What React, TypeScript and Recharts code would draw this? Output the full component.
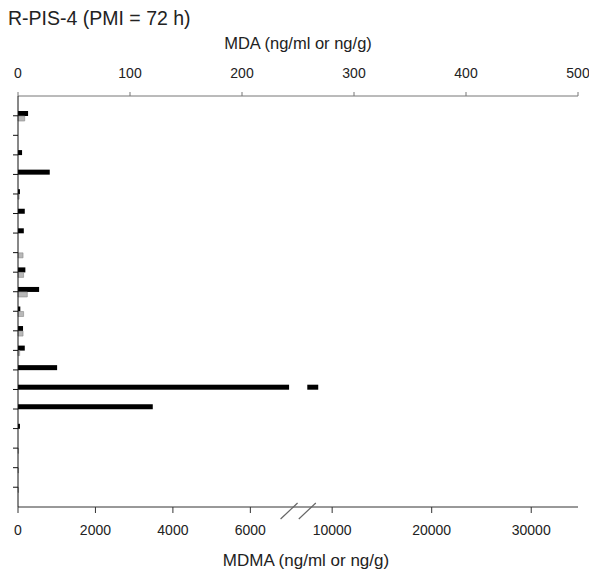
import React from 'react';
import { BarChart, Bar, XAxis, YAxis, Label } from 'recharts';

// Broken-axis chart: MDMA (bottom axis, with a break) and MDA (top axis) per sample row
const ROWS = ['1', '2', '3', '4', '5', '6', '7', '8', '9', '10', '11', '12', '13', '14', '15', '16', '17', '18', '19', '20'];
const MDMA = [260, 0, 105, 820, 50, 175, 150, 0, 190, 545, 60, 130, 175, 1010, 8600, 3480, 50, 0, 0, 0];
const MDA = [6, 0, 0, 0, 1, 0, 0, 4.5, 5, 8.3, 5, 4.5, 1.5, 0, 0, 0, 0, 0.5, 0.5, 0.5];

const MDA_TICKS = [0, 100, 200, 300, 400, 500];
const MDMA_TICKS = [0, 2000, 4000, 6000, 10000, 20000, 30000];
const MDMA_MAX = 34700;

// axis break: 7000 .. 7500 squeezed, upper part compressed
const BREAK_LOW = 7000;
const BREAK_HIGH = 7500;
const BREAK_GAP = 470;
const UPPER_RATIO = 0.257;

const toDisplay = (v: number) => {
  if (v <= BREAK_LOW) return v;
  if (v >= BREAK_HIGH) return BREAK_LOW + BREAK_GAP + (v - BREAK_HIGH) * UPPER_RATIO;
  return BREAK_LOW + ((v - BREAK_LOW) / (BREAK_HIGH - BREAK_LOW)) * BREAK_GAP;
};

const data = ROWS.map((row, i) => ({
  row,
  mdma: toDisplay(MDMA[i]),
  mda: MDA[i],
}));

const tickLabels = new Map<number, string>();
MDMA_TICKS.forEach((t) => tickLabels.set(toDisplay(t), String(t)));
const breakTicks = [toDisplay(BREAK_LOW), toDisplay(BREAK_HIGH)];
const allMdmaTicks = [...MDMA_TICKS.map(toDisplay), ...breakTicks].sort((a, b) => a - b);

const TICK_SIZE = 6;
const TICK_MARGIN = 12;

const MdmaTick = (props: any) => {
  const { x, y, payload } = props;
  const axisY = y - TICK_SIZE - TICK_MARGIN;
  if (breakTicks.includes(payload.value)) {
    return (
      <line x1={x - 8.5} y1={axisY + 12} x2={x + 8.5} y2={axisY - 4} stroke="#666" strokeWidth={1.2} />
    );
  }
  return (
    <g>
      <line x1={x} y1={axisY} x2={x} y2={axisY + TICK_SIZE} stroke="#333" />
      <text x={x} y={y} dy="0.71em" textAnchor="middle" fontSize={14} fill="#222">
        {tickLabels.get(payload.value)}
      </text>
    </g>
  );
};

// black bar, cut where it crosses the axis break
const MdmaBar = (props: any) => {
  const { x, y, width, height, payload, fill } = props;
  const d = payload.mdma;
  if (!d || width <= 0) return null;
  if (d <= BREAK_LOW) return <rect x={x} y={y} width={width} height={height} fill={fill} />;
  const ppu = width / d;
  const g1 = x + BREAK_LOW * ppu;
  const g2 = x + toDisplay(BREAK_HIGH) * ppu;
  return (
    <g>
      <rect x={x} y={y} width={g1 - x} height={height} fill={fill} />
      <rect x={g2} y={y} width={x + width - g2} height={height} fill={fill} />
    </g>
  );
};

export default function App() {
  return (
    <div
      style={{
        position: 'absolute',
        left: 0,
        top: 0,
        width: 589,
        height: 574,
        background: '#fff',
        fontFamily: '"Liberation Sans", Arial, sans-serif',
        color: '#222',
      }}
    >
      <div style={{ position: 'absolute', left: 8, top: 8, fontSize: 19.5, lineHeight: '20px' }}>
        R-PIS-4 (PMI = 72 h)
      </div>
      <BarChart
        layout="vertical"
        width={589}
        height={574}
        data={data}
        margin={{ top: 36, right: 11, bottom: 7, left: 0 }}
        barGap={0}
        barCategoryGap={0}
      >
        <XAxis
          xAxisId="mda"
          orientation="top"
          type="number"
          domain={[0, 500]}
          ticks={MDA_TICKS}
          interval={0}
          height={60}
          tickSize={4}
          tickMargin={14}
          stroke="#777"
          tick={{ fill: '#222', fontSize: 14 }}
        >
          <Label value="MDA (ng/ml or ng/g)" position="insideTop" offset={1} fill="#222" fontSize={16.5} />
        </XAxis>
        <XAxis
          xAxisId="mdma"
          orientation="bottom"
          type="number"
          domain={[0, toDisplay(MDMA_MAX)]}
          ticks={allMdmaTicks}
          interval={0}
          height={60}
          tickSize={TICK_SIZE}
          tickMargin={TICK_MARGIN}
          tickLine={false}
          stroke="#333"
          tick={<MdmaTick />}
        >
          <Label value="MDMA (ng/ml or ng/g)" position="insideBottom" offset={1} dx={8} fill="#222" fontSize={17} />
        </XAxis>
        <YAxis
          type="category"
          dataKey="row"
          width={18}
          tickSize={5}
          interval={0}
          tickFormatter={() => ''}
          stroke="#111"
          padding={{ top: 10, bottom: 10 }}
        />
        <Bar dataKey="mdma" xAxisId="mdma" fill="#000" barSize={5} shape={MdmaBar} isAnimationActive={false} />
        <Bar dataKey="mda" xAxisId="mda" fill="#b8b8b8" stroke="#888" strokeWidth={0.6} barSize={5} isAnimationActive={false} />
      </BarChart>
    </div>
  );
}
